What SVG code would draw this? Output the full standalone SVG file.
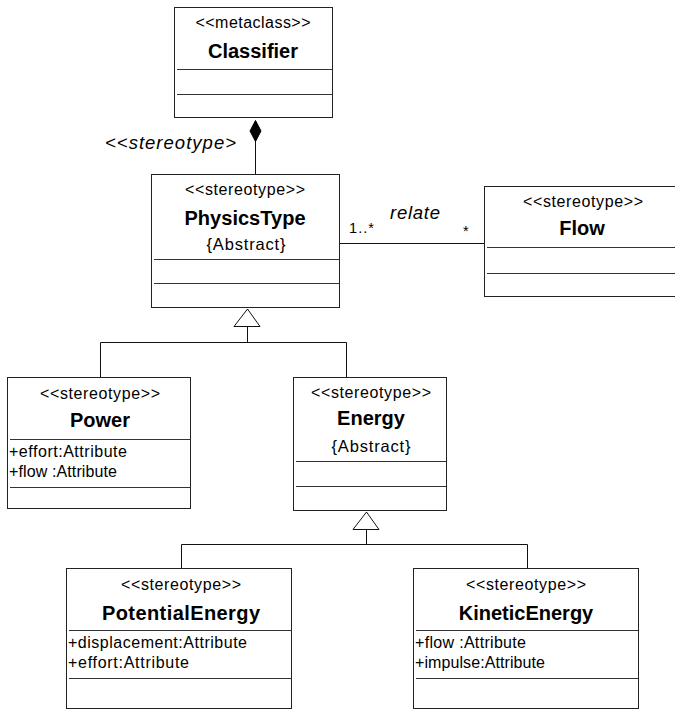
<svg xmlns="http://www.w3.org/2000/svg" width="675" height="709" viewBox="0 0 675 709">
  <style>
    text { font-family: "Liberation Sans", Arial, sans-serif; fill: #000; }
    .box { fill: #fff; stroke: #222; stroke-width: 1; }
    .sep { stroke: #333; stroke-width: 1; }
    .st { font-size: 16px; text-anchor: middle; }
    .nm { font-size: 20px; font-weight: bold; text-anchor: middle; }
    .ab { font-size: 16.5px; text-anchor: middle; }
    .at { font-size: 16px; }
    .lbl { font-size: 18.5px; font-style: italic; }
    .mul { font-size: 14.5px; }
    .ln { stroke: #111; stroke-width: 1; fill: none; }
    .gen { fill: #fff; stroke: #111; stroke-width: 1; }
  </style>

  <!-- connectors -->
  <g id="connectors">
    <!-- composition: PhysicsType to Classifier -->
    <line class="ln" x1="255.5" y1="141" x2="255.5" y2="174"/>
    <polygon points="255.5,120.5 261,131 255.5,141.5 250,131" fill="#000" stroke="#000"/>
    <text class="lbl" x="105" y="149" textLength="131" lengthAdjust="spacing">&lt;&lt;stereotype&gt;</text>

    <!-- association relate -->
    <line class="ln" x1="339" y1="243.5" x2="484" y2="243.5"/>
    <text class="mul" x="349" y="233" textLength="25" lengthAdjust="spacing">1..*</text>
    <text class="lbl" x="390" y="219" textLength="50" lengthAdjust="spacing">relate</text>
    <text class="mul" x="463" y="236">*</text>

    <!-- generalization: Power, Energy to PhysicsType -->
    <polygon class="gen" points="247.5,309 260,326.5 234,326.5"/>
    <polyline class="ln" points="247.5,326.5 247.5,342.5"/>
    <polyline class="ln" points="100.5,377 100.5,342.5 346.5,342.5 346.5,377"/>

    <!-- generalization: PotentialEnergy, KineticEnergy to Energy -->
    <polygon class="gen" points="366.5,512 379,529.5 353,529.5"/>
    <polyline class="ln" points="366.5,529.5 366.5,544.5"/>
    <polyline class="ln" points="181.5,568 181.5,544.5 527.5,544.5 527.5,568"/>
  </g>

  <!-- Classifier -->
  <g id="classifier">
    <rect class="box" x="174.5" y="7.5" width="158" height="110"/>
    <text class="st" x="253" y="28" textLength="115" lengthAdjust="spacing">&lt;&lt;metaclass&gt;&gt;</text>
    <text class="nm" x="253" y="58">Classifier</text>
    <line class="sep" x1="177" y1="69.5" x2="332.5" y2="69.5"/>
    <line class="sep" x1="177" y1="94.5" x2="332.5" y2="94.5"/>
  </g>

  <!-- PhysicsType -->
  <g id="physicstype">
    <rect class="box" x="151.5" y="174.5" width="188" height="133"/>
    <text class="st" x="245" y="195" textLength="120" lengthAdjust="spacing">&lt;&lt;stereotype&gt;&gt;</text>
    <text class="nm" x="245" y="225" textLength="121" lengthAdjust="spacing">PhysicsType</text>
    <text class="ab" x="246" y="250" textLength="79" lengthAdjust="spacing">{Abstract}</text>
    <line class="sep" x1="154" y1="259.5" x2="339.5" y2="259.5"/>
    <line class="sep" x1="154" y1="283.5" x2="339.5" y2="283.5"/>
  </g>

  <!-- Flow -->
  <g id="flow">
    <rect class="box" x="484.5" y="186.5" width="200" height="110"/>
    <text class="st" x="583" y="207" textLength="120" lengthAdjust="spacing">&lt;&lt;stereotype&gt;&gt;</text>
    <text class="nm" x="582" y="235">Flow</text>
    <line class="sep" x1="487" y1="247.5" x2="675" y2="247.5"/>
    <line class="sep" x1="487" y1="273.5" x2="675" y2="273.5"/>
  </g>

  <!-- Power -->
  <g id="power">
    <rect class="box" x="7.5" y="377.5" width="183" height="131"/>
    <text class="st" x="100" y="399" textLength="120" lengthAdjust="spacing">&lt;&lt;stereotype&gt;&gt;</text>
    <text class="nm" x="100" y="427">Power</text>
    <line class="sep" x1="10" y1="439.5" x2="190.5" y2="439.5"/>
    <text class="at" x="9" y="457" textLength="118" lengthAdjust="spacing">+effort:Attribute</text>
    <text class="at" x="9" y="477" textLength="108" lengthAdjust="spacing">+flow :Attribute</text>
    <line class="sep" x1="10" y1="487.5" x2="190.5" y2="487.5"/>
  </g>

  <!-- Energy -->
  <g id="energy">
    <rect class="box" x="293.5" y="377.5" width="153" height="133"/>
    <text class="st" x="371" y="398" textLength="120" lengthAdjust="spacing">&lt;&lt;stereotype&gt;&gt;</text>
    <text class="nm" x="371" y="425">Energy</text>
    <text class="ab" x="371" y="452" textLength="79" lengthAdjust="spacing">{Abstract}</text>
    <line class="sep" x1="296" y1="461.5" x2="446.5" y2="461.5"/>
    <line class="sep" x1="296" y1="486.5" x2="446.5" y2="486.5"/>
  </g>

  <!-- PotentialEnergy -->
  <g id="potentialenergy">
    <rect class="box" x="66.5" y="568.5" width="225" height="140"/>
    <text class="st" x="181" y="590" textLength="120" lengthAdjust="spacing">&lt;&lt;stereotype&gt;&gt;</text>
    <text class="nm" x="181" y="620" textLength="158" lengthAdjust="spacing">PotentialEnergy</text>
    <line class="sep" x1="69" y1="630.5" x2="291.5" y2="630.5"/>
    <text class="at" x="68" y="648" textLength="179" lengthAdjust="spacing">+displacement:Attribute</text>
    <text class="at" x="68" y="668" textLength="121" lengthAdjust="spacing">+effort:Attribute</text>
    <line class="sep" x1="69" y1="678.5" x2="291.5" y2="678.5"/>
  </g>

  <!-- KineticEnergy -->
  <g id="kineticenergy">
    <rect class="box" x="413.5" y="568.5" width="225" height="140"/>
    <text class="st" x="526" y="590" textLength="120" lengthAdjust="spacing">&lt;&lt;stereotype&gt;&gt;</text>
    <text class="nm" x="526" y="620">KineticEnergy</text>
    <line class="sep" x1="416" y1="630.5" x2="638.5" y2="630.5"/>
    <text class="at" x="415" y="648" textLength="111" lengthAdjust="spacing">+flow :Attribute</text>
    <text class="at" x="415" y="668" textLength="130" lengthAdjust="spacing">+impulse:Attribute</text>
    <line class="sep" x1="416" y1="678.5" x2="638.5" y2="678.5"/>
  </g>
</svg>
